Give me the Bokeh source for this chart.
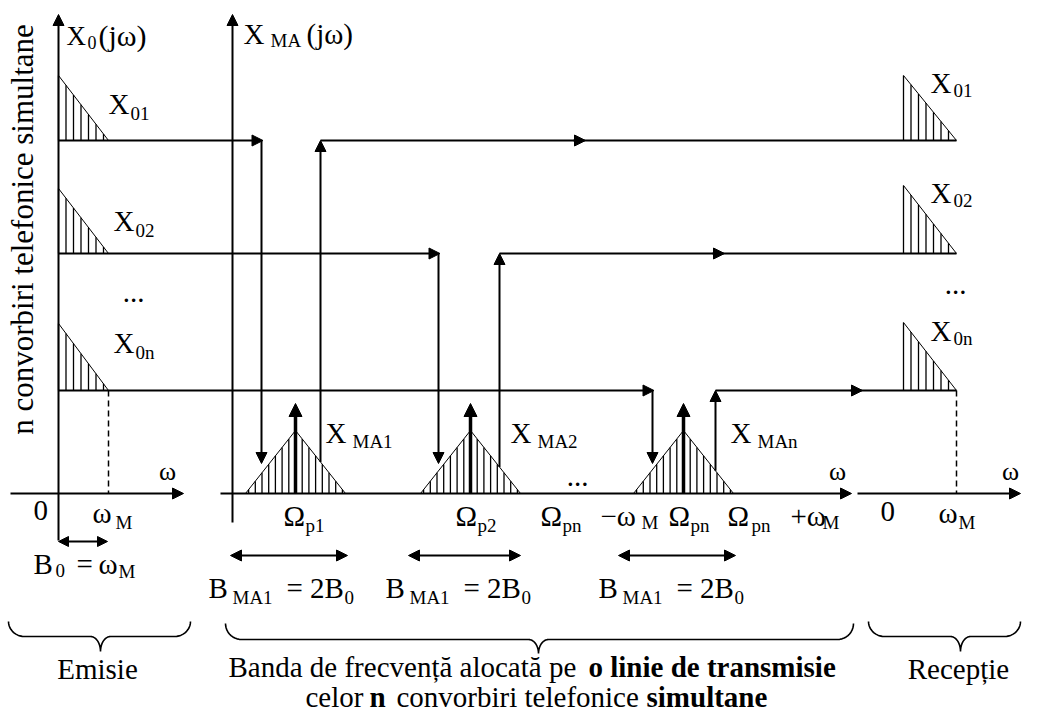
import numpy as np
from bokeh.plotting import figure
from bokeh.models import Range1d, Arrow, NormalHead, ColumnDataSource
from bokeh.embed import file_html
from bokeh.resources import INLINE
from bokeh.core.properties import value

# ---------------- data (diagram units) ----------------
channels = ["1", "2", "n"]
row_level = [140, 253, 390]        # level of each telephone channel row
left_peak = [75, 188, 323]         # top of X0k spectrum, emission side
right_peak = [75, 185, 322]        # top of X0k spectrum, reception side
carriers = [295, 470, 683]         # Omega_p1, Omega_p2, Omega_pn on the line
band_half = 50                     # omega_M measured on the line axis
mod_peak = 430                     # top of each X_MAk spectrum
drop_x = [261, 438, 652]           # where each channel enters the modulator
rise_x = [320, 499, 715]           # where each channel leaves the line
mid_arrow_x = [585, 724, 862]
row_sub = ["01", "02", "0n"]
ma_sub = ["MA1", "MA2", "MAn"]
carrier_sub = ["p1", "p2", "pn"]

AXIS_Y = 493
L0, LWM = 58, 108       # emission: origin and omega_M
M0 = 232                # line axis origin
R0, RWM = 903, 956      # reception spectrum start and omega_M
FONT = value("Liberation Serif")
TEXT_DY = -10           # baseline correction of the text renderer

p = figure(width=1022, height=711, x_range=Range1d(0, 1022), y_range=Range1d(711, 0),
           output_backend="svg", toolbar_location=None, min_border=0,
           x_axis_type=None, y_axis_type=None)
p.outline_line_color = None
p.background_fill_color = "white"
p.border_fill_color = "white"


def arrow(x0, y0, x1, y1, both=False, size=11, lw=2):
    head = lambda: NormalHead(size=size, fill_color="black", line_color="black", line_width=1)
    p.add_layout(Arrow(end=head(), start=head() if both else None,
                       x_start=x0, y_start=y0, x_end=x1, y_end=y1,
                       line_width=lw, line_color="black"))


# ---- axes ----
arrow(L0, 540, L0, 14)
arrow(10, AXIS_Y, 183, AXIS_Y)
arrow(M0, 522, M0, 14)
arrow(220, AXIS_Y, 851, AXIS_Y)
arrow(857, AXIS_Y, 1020, AXIS_Y)

# ---- emission / reception baseband spectra + hatching ----
hx, hy0, hy1 = [], [], []
tri_xs, tri_ys = [], []
for lvl, pk_l, pk_r in zip(row_level, left_peak, right_peak):
    tri_xs += [[L0, LWM], [R0, RWM]]
    tri_ys += [[pk_l, lvl], [pk_r, lvl]]
    for k in range(7):
        x = L0 + 7.5 * k
        hx.append(x); hy0.append(lvl); hy1.append(pk_l + (x - L0) / (LWM - L0) * (lvl - pk_l))
        x = R0 + 7.5 * k
        hx.append(x); hy0.append(lvl); hy1.append(pk_r + (x - R0) / (RWM - R0) * (lvl - pk_r))
# modulated spectra
for c in carriers:
    tri_xs.append([c - band_half, c, c + band_half])
    tri_ys.append([AXIS_Y, mod_peak, AXIS_Y])
    for k in list(range(-7, 0)) + list(range(1, 8)):
        x = c + 6.7 * k
        hx.append(x); hy0.append(AXIS_Y)
        hy1.append(AXIS_Y - (AXIS_Y - mod_peak) * (1 - abs(x - c) / band_half))
    arrow(c, AXIS_Y, c, 403, size=13, lw=3.5)

p.multi_line(tri_xs, tri_ys, line_color="black", line_width=1)
p.segment(hx, hy0, hx, hy1, line_color="black", line_width=1.3)

# dashed omega_M markers
p.segment([LWM, RWM], [row_level[-1]] * 2, [LWM, RWM], [AXIS_Y] * 2,
          line_color="black", line_width=1.5, line_dash="6 4")

# ---- signal paths ----
for lvl, dx, rx, mx, c in zip(row_level, drop_x, rise_x, mid_arrow_x, carriers):
    arrow(L0, lvl, dx + 1.5, lvl)
    arrow(dx, lvl, dx, 463)
    y_up = mod_peak + (rx - c) / band_half * (AXIS_Y - mod_peak)
    arrow(rx, y_up, rx, lvl)
    p.line([rx, RWM], [lvl, lvl], line_color="black", line_width=2)
    arrow(mx - 12, lvl, mx, lvl)

# bandwidth double arrows
arrow(L0, 541, 107, 541, both=True, size=10)
for x0, x1 in [(230, 347), (408, 520), (618, 735)]:
    arrow(x0, 555, x1, 555, both=True, size=11)

# ---- braces ----
def brace(x0, x1, xt, top, base, tip, r=16, r2=10):
    t = np.linspace(0, np.pi / 2, 12)
    xs = list(x0 + r - r * np.cos(t)); ys = list(top + (base - top) * np.sin(t))
    xs += list(xt - r2 + r2 * np.sin(t)); ys += list(tip - (tip - base) * np.cos(t))
    xs += list(xt + r2 * (1 - np.cos(t))); ys += list(tip - (tip - base) * np.sin(t))
    xs += list(x1 - r + r * np.sin(t)); ys += list(base - (base - top) * (1 - np.cos(t)))
    return xs, ys

bx, by = [], []
for args in [(8, 190, 100, 621, 636, 651), (225, 853, 538, 623, 639, 653), (868, 1020, 960, 621, 636, 651)]:
    xs, ys = brace(*args)
    bx.append(xs); by.append(ys)
p.multi_line(bx, by, line_color="black", line_width=1.6)

# ---- texts ----
T = dict(x=[], y=[], t=[], fs=[], st=[], al=[])

def lab(x, y, t, fs=29, st="normal", al="left"):
    T["x"].append(x); T["y"].append(y + TEXT_DY); T["t"].append(t)
    T["fs"].append(f"{fs}px"); T["st"].append(st); T["al"].append(al)

SUB = 19
lab(66, 45, "X", 27); lab(87, 52, "0", 18); lab(98, 45, "(jω)", 30)
lab(243, 43, "X", 29); lab(270, 50, "MA", SUB); lab(306, 43, "(jω)", 29)

for (xl, yl), (xr, yr), s in zip([(108, 113), (113, 230), (113, 352)],
                                  [(930, 92), (930, 202), (930, 340)], row_sub):
    lab(xl, yl, "X"); lab(xl + 22, yl + 10, s, SUB)
    lab(xr, yr, "X"); lab(xr + 23, yr + 8, s, SUB)
lab(133, 302, "...", 29, al="center")
lab(955, 294, "...", 29, al="center")

for x, s in zip([325, 510, 730], ma_sub):
    lab(x, 442, "X"); lab(x + 27, 451, s, SUB)

for x, s in zip([283, 455, 540], carrier_sub):
    lab(x, 525, "Ω"); lab(x + 22, 535, s, SUB)
lab(600, 525, "−ω"); lab(641, 532, "M", SUB)
lab(668, 525, "Ω"); lab(690, 535, carrier_sub[2], SUB)
lab(727, 525, "Ω"); lab(751, 535, carrier_sub[2], SUB)
lab(790, 525, "+ω"); lab(822, 532, "M", SUB)
lab(577, 486, "...", 29, al="center")

for x in [167, 837, 1010]:
    lab(x, 481, "ω", 26, al="center")
lab(33, 520, "0"); lab(92, 522, "ω"); lab(115, 532, "M", SUB)
lab(880, 521, "0"); lab(938, 522, "ω"); lab(958, 532, "M", SUB)
lab(33, 573, "B"); lab(55, 580, "0", SUB); lab(76, 573, "="); lab(98, 573, "ω"); lab(118, 581, "M", SUB)

for x0 in [208, 385, 598]:
    lab(x0, 597, "B"); lab(x0 + 24, 607, "MA1", SUB)
    lab(x0 + 78, 597, "= 2B"); lab(x0 + 136, 607, "0", SUB)

lab(97, 678, "Emisie", 29, al="center")
lab(958, 678, "Recepție", 29, al="center")
lab(228, 676, "Banda de frecvență alocată pe", 29)
lab(588, 676, "o linie de transmisie", 29, st="bold")
lab(305, 706, "celor", 29)
lab(369, 706, "n", 29, st="bold")
lab(396, 706, "convorbiri telefonice", 29)
lab(646, 706, "simultane", 29, st="bold")

src = ColumnDataSource(T)
p.text(x="x", y="y", text="t", source=src, text_font=FONT, text_font_size="fs",
       text_font_style="st", text_align="al", text_baseline="alphabetic", text_color="black")

p.text(x=[22], y=[229], text=["n convorbiri telefonice simultane"], angle=np.pi / 2,
       text_font=FONT, text_font_size="31px", text_align="center", text_baseline="middle",
       text_color="black")

open("out.html", "w").write(file_html(p, INLINE))
